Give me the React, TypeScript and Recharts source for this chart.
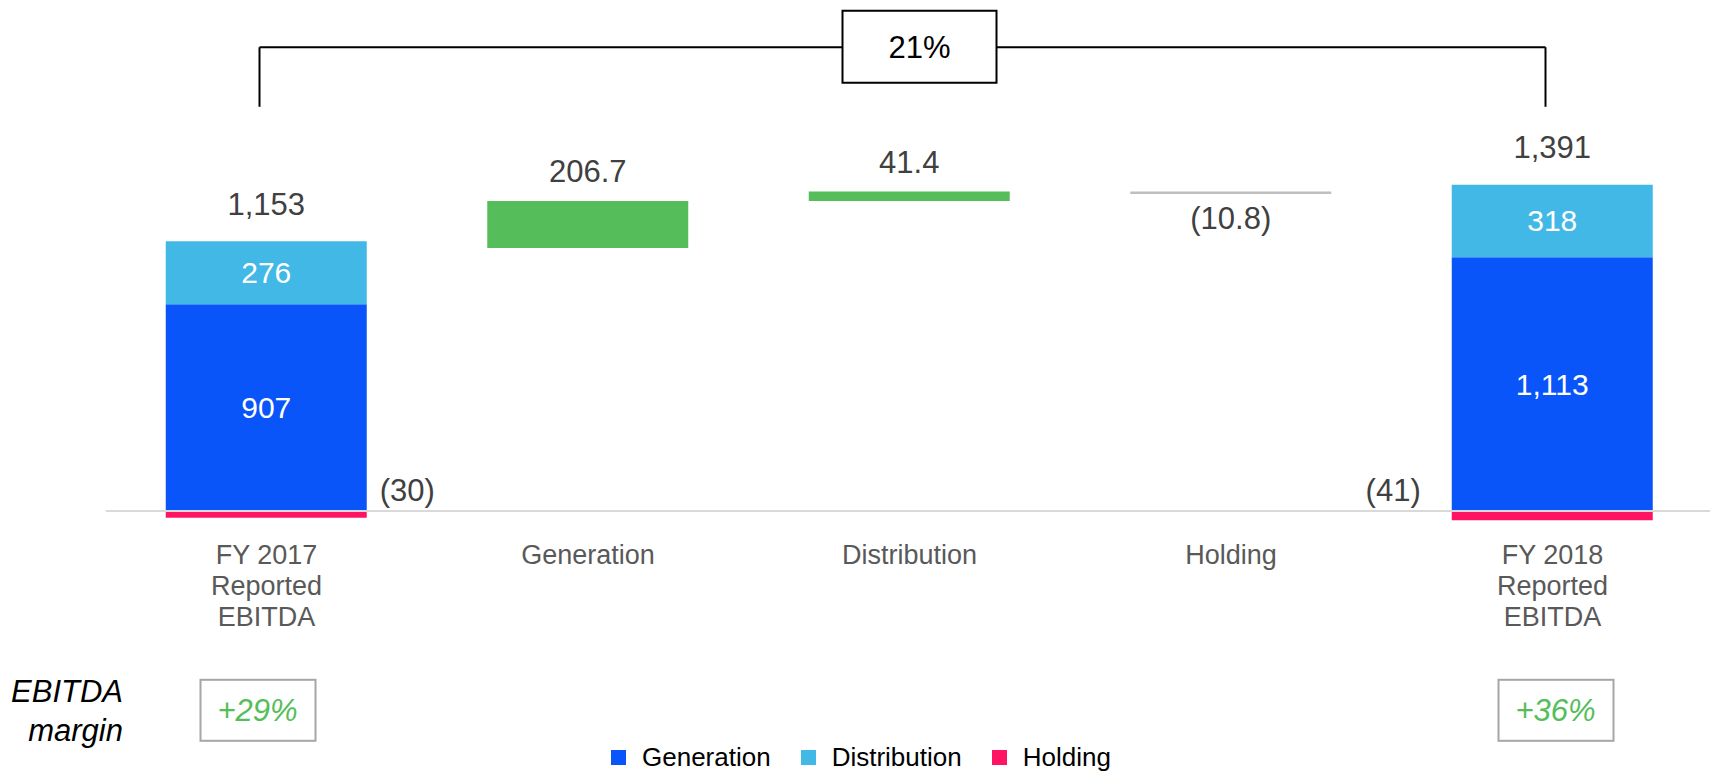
import React from 'react';
import { BarChart, Bar, XAxis, YAxis, ReferenceLine, LabelList } from 'recharts';

const categories = ['FY 2017\nReported\nEBITDA', 'Generation', 'Distribution', 'Holding', 'FY 2018\nReported\nEBITDA'];
const generation = [907, 0, 0, 0, 1113];
const distribution = [276, 0, 0, 0, 318];
const holding = [-30, 0, 0, 0, -41];
const totals = [1153, 0, 0, 0, 1391];
const changes = [0, 206.7, 41.4, -10.8, 0];
const margins = ['+29%', '', '', '', '+36%'];
const growth = '21%';

const seriesNames = ['Generation', 'Distribution', 'Holding'];
const seriesColors = ['#0A55FA', '#41B8E6', '#FF1464'];
const UP = '#55BE5A';
const DOWN = '#BFBFBF';
const TEXT = '#404040';

// bracket heights, in value units
const bracketTop = 2034;
const bracketFoot = 1773;
const bracketShift = -7;
// small horizontal nudge of the margin boxes under the first/last bar
const marginShift = [-9, 0, 0, 0, 3];

// walk the changes to get the invisible base under each step
let running = totals[0];
const data = categories.map((name, i) => {
  const c = changes[i];
  let base = 0, up = 0, down = 0;
  if (c > 0) { base = running; up = c; running += c; }
  else if (c < 0) { running += c; base = running; down = -c; }
  return { name, pos: i + 1, gen: generation[i], dist: distribution[i], hold: holding[i], base, up, down };
});

const fmt = (v: number) => v.toLocaleString('en-US');
const fmtSigned = (v: number) => (v < 0 ? `(${fmt(-v)})` : fmt(v));

const box = (p: any) => {
  const vb = p.viewBox || p;
  return { x: vb.x, y: vb.y, width: vb.width, height: vb.height };
};

const InnerLabel = (p: any) => {
  const { x, y, width, height } = box(p);
  if (!p.value) return null;
  return (
    <text x={x + width / 2} y={y + height / 2} textAnchor="middle" dominantBaseline="central" fill="#fff" fontSize={30}>
      {fmt(p.value)}
    </text>
  );
};

// these labels get the category position (1-based) as value
const TotalLabel = (p: any) => {
  const { x, y, width, height } = box(p);
  const t = totals[p.value - 1];
  if (!t) return null;
  const top = Math.min(y, y + height);
  return (
    <text x={x + width / 2} y={top - 37} textAnchor="middle" dominantBaseline="central" fill={TEXT} fontSize={31}>
      {fmt(t)}
    </text>
  );
};

const HoldingLabel = (p: any) => {
  const { x, y, width, height } = box(p);
  const i = p.value - 1;
  const v = holding[i];
  if (!v) return null;
  const top = Math.min(y, y + height);
  const first = i === 0;
  return (
    <text x={first ? x + width + 13 : x - 31} y={top - 21} textAnchor={first ? 'start' : 'end'} dominantBaseline="central" fill={TEXT} fontSize={31}>
      {fmtSigned(v)}
    </text>
  );
};

const UpLabel = (p: any) => {
  const { x, y, width, height } = box(p);
  const c = changes[p.value - 1];
  if (!(c > 0)) return null;
  const top = Math.min(y, y + height);
  return (
    <text x={x + width / 2} y={top - 29} textAnchor="middle" dominantBaseline="central" fill={TEXT} fontSize={31}>
      {fmtSigned(c)}
    </text>
  );
};

const DownLabel = (p: any) => {
  const { x, y, width, height } = box(p);
  const c = changes[p.value - 1];
  if (!(c < 0)) return null;
  const bottom = Math.max(y, y + height);
  return (
    <text x={x + width / 2} y={bottom + 24} textAnchor="middle" dominantBaseline="central" fill={TEXT} fontSize={31}>
      {fmtSigned(c)}
    </text>
  );
};

const CategoryTick = (p: any) => {
  const { x, y, payload, index } = p;
  const lines = String(payload.value).split('\n');
  const m = margins[index];
  const mx = x + (marginShift[index] || 0);
  return (
    <g>
      {lines.map((line, i) => (
        <text key={i} x={x} y={y + 21 + i * 31} textAnchor="middle" dominantBaseline="central" fill="#595959" fontSize={27}>
          {line}
        </text>
      ))}
      {m && (
        <g>
          <rect x={mx - 57} y={y + 146} width={115} height={61} fill="#fff" stroke="#A6A6A6" strokeWidth={2} />
          <text x={mx} y={y + 177} textAnchor="middle" dominantBaseline="central" fill={UP} fontSize={31} fontStyle="italic">
            {m}
          </text>
        </g>
      )}
    </g>
  );
};

const GrowthBox = (p: any) => {
  const vb = p.viewBox || {};
  const cx = vb.x + vb.width / 2 + 10;
  const cy = vb.y;
  return (
    <g>
      <rect x={cx - 77} y={cy - 36.5} width={154} height={72} fill="#fff" stroke="#000" strokeWidth={2} />
      <text x={cx} y={cy} textAnchor="middle" dominantBaseline="central" fill="#000" fontSize={31}>
        {growth}
      </text>
    </g>
  );
};

const BracketLine = (p: any) => (
  <line x1={p.x1 + bracketShift} y1={p.y1} x2={p.x2 + bracketShift} y2={p.y2} stroke="#000" strokeWidth={2} />
);

export default function App() {
  return (
    <div style={{ position: 'absolute', left: 0, top: 0, width: 1710, height: 773, overflow: 'hidden', background: '#fff', fontFamily: '"Liberation Sans", Arial, sans-serif' }}>
      <BarChart
        width={1714}
        height={773}
        data={data}
        stackOffset="sign"
        margin={{ top: 9.4, right: 0.75, bottom: 209.2, left: 105.75 }}
      >
        <XAxis dataKey="name" axisLine={false} tickLine={false} tickSize={0} tickMargin={0} height={30} interval={0} tick={<CategoryTick />} />
        <YAxis hide type="number" domain={[-100, 2200]} />
        <Bar dataKey="gen" stackId="s" barSize={201} fill={seriesColors[0]} isAnimationActive={false}>
          <LabelList dataKey="gen" content={<InnerLabel />} />
        </Bar>
        <Bar dataKey="dist" stackId="s" barSize={201} fill={seriesColors[1]} isAnimationActive={false}>
          <LabelList dataKey="dist" content={<InnerLabel />} />
          <LabelList dataKey="pos" content={<TotalLabel />} />
        </Bar>
        <Bar dataKey="hold" stackId="s" barSize={201} fill={seriesColors[2]} isAnimationActive={false}>
          <LabelList dataKey="pos" content={<HoldingLabel />} />
        </Bar>
        <Bar dataKey="base" stackId="s" barSize={201} fill="transparent" isAnimationActive={false} />
        <Bar dataKey="up" stackId="s" barSize={201} fill={UP} isAnimationActive={false}>
          <LabelList dataKey="pos" content={<UpLabel />} />
        </Bar>
        <Bar dataKey="down" stackId="s" barSize={201} fill={DOWN} isAnimationActive={false}>
          <LabelList dataKey="pos" content={<DownLabel />} />
        </Bar>
        <ReferenceLine y={0} stroke="#D9D9D9" strokeWidth={2} />
        <ReferenceLine
          segment={[{ x: categories[0], y: bracketTop }, { x: categories[0], y: bracketFoot }]}
          stroke="#000"
          strokeWidth={2}
          shape={BracketLine}
        />
        <ReferenceLine
          segment={[{ x: categories[4], y: bracketTop }, { x: categories[4], y: bracketFoot }]}
          stroke="#000"
          strokeWidth={2}
          shape={BracketLine}
        />
        <ReferenceLine
          segment={[{ x: categories[0], y: bracketTop }, { x: categories[4], y: bracketTop }]}
          stroke="#000"
          strokeWidth={2}
          shape={BracketLine}
          label={(p: any) => <GrowthBox {...p} />}
        />
      </BarChart>
      <div style={{ position: 'absolute', left: 0, top: 672, width: 123, textAlign: 'right', fontSize: 31, lineHeight: '39px', fontStyle: 'italic', color: '#000' }}>
        EBITDA
        <br />
        margin
      </div>
      <div style={{ position: 'absolute', left: 611, top: 742, height: 30, display: 'flex', alignItems: 'center', fontSize: 26, color: '#000' }}>
        {seriesNames.map((n, i) => (
          <div key={n} style={{ display: 'flex', alignItems: 'center', marginRight: 30 }}>
            <span style={{ width: 15, height: 15, background: seriesColors[i], marginRight: 16, display: 'inline-block' }} />
            <span>{n}</span>
          </div>
        ))}
      </div>
    </div>
  );
}
